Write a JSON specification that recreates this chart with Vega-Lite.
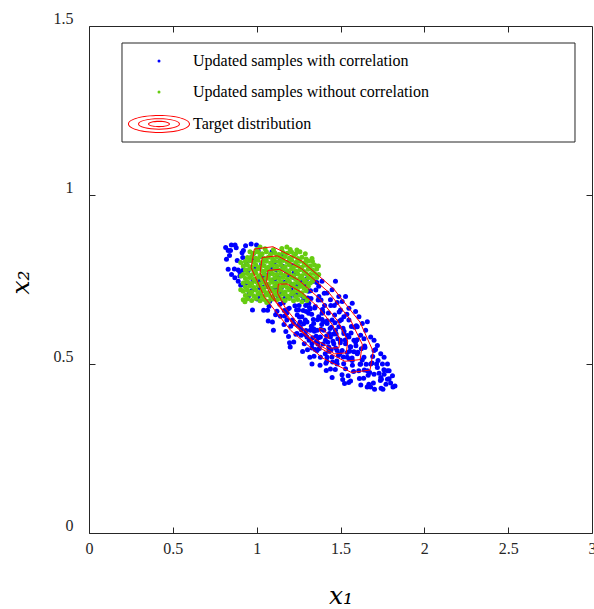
{
"$schema": "https://vega.github.io/schema/vega-lite/v6.json",
"width": 503, "height": 507,
"autosize": {"type": "none"},
"padding": {"left": 89, "top": 26, "right": 2, "bottom": 76},
"background": "white",
"config": {
 "font": "Liberation Serif",
 "view": {"stroke": "#262626", "strokeWidth": 1},
 "axis": {"grid": false, "domain": false, "tickSize": -6, "tickColor": "#262626", "tickWidth": 1,
  "labelFont": "Liberation Serif", "labelFontSize": 16, "labelColor": "#262626", "labelFlush": false, "labelOverlap": false,
  "titleFont": "DejaVu Serif", "titleFontSize": 25, "titleFontStyle": "italic", "titleFontWeight": "normal", "titleColor": "#000000"},
 "legend": {"orient": "none", "legendX": 33, "legendY": 17, "padding": 10, "rowPadding": 15,
  "strokeColor": "transparent", "fillColor": "transparent", "symbolSize": 9, "symbolOffset": 19, "labelOffset": 26, "symbolStrokeWidth": 0,
  "labelFont": "Liberation Serif", "labelFontSize": 16, "labelColor": "#000000", "labelLimit": 0}
},
"datasets": {
 "blue": [
{"x":0.830,"y":0.836},{"x":0.838,"y":0.821},{"x":0.849,"y":0.852},{"x":0.867,"y":0.781},{"x":0.844,"y":0.836},
{"x":0.884,"y":0.806},{"x":0.878,"y":0.844},{"x":0.890,"y":0.778},{"x":0.871,"y":0.852},
{"x":0.905,"y":0.733},{"x":0.913,"y":0.829},{"x":0.899,"y":0.773},{"x":0.917,"y":0.815},
{"x":0.919,"y":0.777},{"x":0.934,"y":0.850},{"x":0.928,"y":0.739},{"x":0.940,"y":0.795},{"x":0.921,"y":0.836},
{"x":0.955,"y":0.707},{"x":0.963,"y":0.807},{"x":0.949,"y":0.776},{"x":0.967,"y":0.855},{"x":0.944,"y":0.741},
{"x":0.984,"y":0.809},{"x":0.978,"y":0.746},{"x":0.990,"y":0.782},{"x":0.971,"y":0.717},{"x":0.980,"y":0.827},
{"x":1.013,"y":0.745},{"x":0.999,"y":0.852},{"x":1.017,"y":0.726},{"x":0.994,"y":0.781},{"x":1.009,"y":0.835},{"x":1.003,"y":0.692},
{"x":1.040,"y":0.759},{"x":1.021,"y":0.701},{"x":1.030,"y":0.796},{"x":1.038,"y":0.727},{"x":1.024,"y":0.819},{"x":1.042,"y":0.659},
{"x":1.044,"y":0.747},{"x":1.059,"y":0.708},{"x":1.053,"y":0.807},{"x":1.065,"y":0.659},{"x":1.046,"y":0.766},{"x":1.055,"y":0.729},
{"x":1.088,"y":0.782},{"x":1.074,"y":0.671},{"x":1.092,"y":0.832},{"x":1.069,"y":0.627},{"x":1.084,"y":0.769},{"x":1.078,"y":0.686},{"x":1.090,"y":0.748},
{"x":1.096,"y":0.698},{"x":1.105,"y":0.801},{"x":1.113,"y":0.646},{"x":1.099,"y":0.723},{"x":1.117,"y":0.780},{"x":1.094,"y":0.624},{"x":1.109,"y":0.752},
{"x":1.128,"y":0.702},{"x":1.140,"y":0.806},{"x":1.121,"y":0.656},{"x":1.130,"y":0.755},{"x":1.138,"y":0.677},{"x":1.124,"y":0.723},{"x":1.142,"y":0.641},{"x":1.119,"y":0.778},
{"x":1.159,"y":0.681},{"x":1.153,"y":0.818},{"x":1.165,"y":0.658},{"x":1.146,"y":0.724},{"x":1.155,"y":0.789},{"x":1.163,"y":0.617},{"x":1.149,"y":0.709},{"x":1.167,"y":0.642},
{"x":1.169,"y":0.742},{"x":1.184,"y":0.661},{"x":1.178,"y":0.769},{"x":1.190,"y":0.581},{"x":1.171,"y":0.696},{"x":1.180,"y":0.651},{"x":1.188,"y":0.764},{"x":1.174,"y":0.596},
{"x":1.217,"y":0.707},{"x":1.194,"y":0.665},{"x":1.209,"y":0.735},{"x":1.203,"y":0.612},{"x":1.215,"y":0.791},{"x":1.196,"y":0.563},{"x":1.205,"y":0.721},{"x":1.213,"y":0.630},{"x":1.199,"y":0.697},
{"x":1.242,"y":0.645},{"x":1.219,"y":0.757},{"x":1.234,"y":0.588},{"x":1.228,"y":0.672},{"x":1.240,"y":0.734},{"x":1.221,"y":0.565},{"x":1.230,"y":0.703},{"x":1.238,"y":0.660},{"x":1.224,"y":0.770},
{"x":1.267,"y":0.601},{"x":1.244,"y":0.708},{"x":1.259,"y":0.624},{"x":1.253,"y":0.673},{"x":1.265,"y":0.585},{"x":1.246,"y":0.731},{"x":1.255,"y":0.639},{"x":1.263,"y":0.783},{"x":1.249,"y":0.615},
{"x":1.292,"y":0.673},{"x":1.269,"y":0.742},{"x":1.284,"y":0.560},{"x":1.278,"y":0.658},{"x":1.290,"y":0.587},{"x":1.271,"y":0.703},{"x":1.280,"y":0.619},{"x":1.288,"y":0.730},{"x":1.274,"y":0.537},{"x":1.296,"y":0.655},
{"x":1.294,"y":0.599},{"x":1.309,"y":0.715},{"x":1.303,"y":0.542},{"x":1.315,"y":0.667},{"x":1.300,"y":0.624},{"x":1.305,"y":0.695},{"x":1.313,"y":0.570},{"x":1.299,"y":0.752},{"x":1.317,"y":0.520},{"x":1.311,"y":0.680},
{"x":1.334,"y":0.578},{"x":1.328,"y":0.647},{"x":1.340,"y":0.604},{"x":1.321,"y":0.717},{"x":1.330,"y":0.547},{"x":1.338,"y":0.632},{"x":1.324,"y":0.694},{"x":1.342,"y":0.523},{"x":1.319,"y":0.663},{"x":1.326,"y":0.612},
{"x":1.353,"y":0.719},{"x":1.365,"y":0.559},{"x":1.346,"y":0.666},{"x":1.355,"y":0.582},{"x":1.363,"y":0.631},{"x":1.349,"y":0.543},{"x":1.367,"y":0.689},{"x":1.344,"y":0.597},{"x":1.359,"y":0.741},{"x":1.357,"y":0.567},
{"x":1.390,"y":0.632},{"x":1.371,"y":0.700},{"x":1.380,"y":0.520},{"x":1.388,"y":0.617},{"x":1.374,"y":0.546},{"x":1.392,"y":0.661},{"x":1.369,"y":0.578},{"x":1.384,"y":0.689},{"x":1.378,"y":0.496},{"x":1.383,"y":0.603},
{"x":1.396,"y":0.559},{"x":1.405,"y":0.673},{"x":1.413,"y":0.502},{"x":1.399,"y":0.625},{"x":1.417,"y":0.583},{"x":1.394,"y":0.653},{"x":1.409,"y":0.530},{"x":1.403,"y":0.709},{"x":1.415,"y":0.481},
{"x":1.421,"y":0.628},{"x":1.430,"y":0.538},{"x":1.438,"y":0.605},{"x":1.424,"y":0.564},{"x":1.442,"y":0.673},{"x":1.419,"y":0.508},{"x":1.434,"y":0.590},{"x":1.428,"y":0.651},{"x":1.440,"y":0.485},
{"x":1.446,"y":0.609},{"x":1.455,"y":0.567},{"x":1.463,"y":0.673},{"x":1.449,"y":0.521},{"x":1.467,"y":0.622},{"x":1.444,"y":0.542},{"x":1.459,"y":0.589},{"x":1.453,"y":0.506},{"x":1.465,"y":0.645},
{"x":1.471,"y":0.547},{"x":1.480,"y":0.682},{"x":1.488,"y":0.525},{"x":1.474,"y":0.589},{"x":1.492,"y":0.654},{"x":1.469,"y":0.484},{"x":1.484,"y":0.575},{"x":1.478,"y":0.509},
{"x":1.515,"y":0.606},{"x":1.496,"y":0.530},{"x":1.505,"y":0.631},{"x":1.513,"y":0.454},{"x":1.499,"y":0.563},{"x":1.517,"y":0.521},{"x":1.494,"y":0.627},{"x":1.509,"y":0.468},
{"x":1.528,"y":0.571},{"x":1.540,"y":0.534},{"x":1.521,"y":0.597},{"x":1.530,"y":0.486},{"x":1.538,"y":0.647},{"x":1.524,"y":0.442},{"x":1.542,"y":0.584},{"x":1.519,"y":0.501},
{"x":1.559,"y":0.551},{"x":1.553,"y":0.515},{"x":1.565,"y":0.611},{"x":1.546,"y":0.465},{"x":1.555,"y":0.538},{"x":1.563,"y":0.592},{"x":1.549,"y":0.445},
{"x":1.592,"y":0.554},{"x":1.569,"y":0.518},{"x":1.584,"y":0.609},{"x":1.578,"y":0.478},{"x":1.590,"y":0.565},{"x":1.571,"y":0.496},{"x":1.580,"y":0.536},
{"x":1.613,"y":0.457},{"x":1.599,"y":0.572},{"x":1.617,"y":0.499},{"x":1.594,"y":0.613},{"x":1.609,"y":0.480},{"x":1.603,"y":0.535},
{"x":1.640,"y":0.575},{"x":1.621,"y":0.438},{"x":1.630,"y":0.512},{"x":1.638,"y":0.458},{"x":1.624,"y":0.545},{"x":1.642,"y":0.482},
{"x":1.644,"y":0.553},{"x":1.659,"y":0.432},{"x":1.653,"y":0.499},{"x":1.665,"y":0.467},{"x":1.646,"y":0.549},
{"x":1.680,"y":0.432},{"x":1.688,"y":0.503},{"x":1.674,"y":0.475},{"x":1.692,"y":0.522},{"x":1.669,"y":0.440},
{"x":1.709,"y":0.543},{"x":1.703,"y":0.425},{"x":1.715,"y":0.500},{"x":1.696,"y":0.444},
{"x":1.730,"y":0.473},{"x":1.738,"y":0.451},{"x":1.724,"y":0.510},{"x":1.742,"y":0.428},
{"x":1.744,"y":0.455},{"x":1.759,"y":0.483},{"x":1.753,"y":0.425},
{"x":1.790,"y":0.456},{"x":1.771,"y":0.440},{"x":1.780,"y":0.480},
{"x":1.813,"y":0.432},{"x":1.799,"y":0.444},{"x":1.825,"y":0.435},
{"x":1.34,"y":0.745},{"x":1.37,"y":0.73},{"x":1.39,"y":0.745},{"x":1.42,"y":0.71},{"x":1.45,"y":0.72},{"x":1.47,"y":0.745},{"x":1.49,"y":0.70},{"x":1.51,"y":0.685},
{"x":1.53,"y":0.70},{"x":1.55,"y":0.665},{"x":1.57,"y":0.68},{"x":1.59,"y":0.655},{"x":1.61,"y":0.64},{"x":1.63,"y":0.62},{"x":1.65,"y":0.60},{"x":1.66,"y":0.625},
{"x":1.68,"y":0.58},{"x":1.70,"y":0.57},{"x":1.72,"y":0.555},{"x":1.74,"y":0.53},{"x":1.76,"y":0.52},{"x":1.78,"y":0.50},{"x":1.79,"y":0.48},{"x":1.81,"y":0.465},
{"x":1.60,"y":0.61},{"x":1.55,"y":0.63},{"x":1.50,"y":0.66},{"x":1.44,"y":0.69},{"x":1.70,"y":0.54},{"x":1.75,"y":0.50},{"x":1.62,"y":0.585},{"x":1.52,"y":0.64},
{"x":1.10,"y":0.60},{"x":1.20,"y":0.55},{"x":1.33,"y":0.50},{"x":1.45,"y":0.46},{"x":1.56,"y":0.45},{"x":0.975,"y":0.66},{"x":0.95,"y":0.70},
{"x":0.815,"y":0.845},{"x":0.82,"y":0.81},{"x":0.83,"y":0.78},{"x":0.85,"y":0.765},{"x":0.87,"y":0.755},{"x":0.89,"y":0.745},{"x":0.90,"y":0.76},
{"x":1.25,"y":0.66},{"x":1.27,"y":0.64},{"x":1.29,"y":0.63},{"x":1.31,"y":0.65},{"x":1.32,"y":0.60},{"x":1.34,"y":0.62},{"x":1.36,"y":0.60},{"x":1.37,"y":0.64},
{"x":1.38,"y":0.58},{"x":1.40,"y":0.60},{"x":1.41,"y":0.57},{"x":1.42,"y":0.62},{"x":1.43,"y":0.55},{"x":1.44,"y":0.58},{"x":1.46,"y":0.56},{"x":1.47,"y":0.60},
{"x":1.48,"y":0.54},{"x":1.50,"y":0.57},{"x":1.51,"y":0.54},{"x":1.53,"y":0.56},{"x":1.54,"y":0.52},{"x":1.56,"y":0.55},{"x":1.57,"y":0.51},{"x":1.58,"y":0.57},
{"x":1.30,"y":0.58},{"x":1.33,"y":0.56},{"x":1.35,"y":0.67},{"x":1.28,"y":0.69},{"x":1.26,"y":0.61},{"x":1.39,"y":0.65},{"x":1.45,"y":0.63},{"x":1.49,"y":0.61},
{"x":1.52,"y":0.59},{"x":1.55,"y":0.58},{"x":1.36,"y":0.54},{"x":1.42,"y":0.52},{"x":1.48,"y":0.50},{"x":1.60,"y":0.53},{"x":1.62,"y":0.50},{"x":1.64,"y":0.52},
{"x":1.66,"y":0.48},{"x":1.68,"y":0.50},{"x":1.70,"y":0.47},{"x":1.72,"y":0.49},{"x":1.74,"y":0.46},{"x":1.76,"y":0.47},{"x":1.78,"y":0.455},{"x":1.22,"y":0.62},
{"x":1.24,"y":0.59},{"x":1.18,"y":0.63}
 ],
 "green": [
{"x":0.920,"y":0.690},{"x":0.945,"y":0.693},{"x":0.970,"y":0.688},{"x":0.995,"y":0.694},{"x":1.020,"y":0.687},{"x":1.045,"y":0.691},{"x":1.070,"y":0.686},{"x":1.095,"y":0.692},{"x":1.120,"y":0.690},{"x":1.145,"y":0.693},{"x":1.170,"y":0.688},{"x":1.195,"y":0.694},{"x":1.220,"y":0.687},{"x":1.245,"y":0.691},
{"x":0.933,"y":0.703},{"x":0.958,"y":0.706},{"x":0.983,"y":0.701},{"x":1.008,"y":0.707},{"x":1.033,"y":0.700},{"x":1.058,"y":0.704},{"x":1.083,"y":0.699},{"x":1.108,"y":0.705},{"x":1.133,"y":0.703},{"x":1.158,"y":0.706},{"x":1.183,"y":0.701},{"x":1.208,"y":0.707},{"x":1.233,"y":0.700},{"x":1.258,"y":0.704},{"x":1.283,"y":0.699},
{"x":0.920,"y":0.715},{"x":0.945,"y":0.718},{"x":0.970,"y":0.713},{"x":0.995,"y":0.719},{"x":1.020,"y":0.712},{"x":1.045,"y":0.716},{"x":1.070,"y":0.711},{"x":1.095,"y":0.717},{"x":1.120,"y":0.715},{"x":1.145,"y":0.718},{"x":1.170,"y":0.713},{"x":1.195,"y":0.719},{"x":1.220,"y":0.712},{"x":1.245,"y":0.716},{"x":1.270,"y":0.711},{"x":1.295,"y":0.717},
{"x":0.933,"y":0.728},{"x":0.958,"y":0.731},{"x":0.983,"y":0.726},{"x":1.008,"y":0.732},{"x":1.033,"y":0.725},{"x":1.058,"y":0.729},{"x":1.083,"y":0.724},{"x":1.108,"y":0.730},{"x":1.133,"y":0.728},{"x":1.158,"y":0.731},{"x":1.183,"y":0.726},{"x":1.208,"y":0.732},{"x":1.233,"y":0.725},{"x":1.258,"y":0.729},{"x":1.283,"y":0.724},{"x":1.308,"y":0.730},
{"x":0.920,"y":0.740},{"x":0.945,"y":0.743},{"x":0.970,"y":0.738},{"x":0.995,"y":0.744},{"x":1.020,"y":0.737},{"x":1.045,"y":0.741},{"x":1.070,"y":0.736},{"x":1.095,"y":0.742},{"x":1.120,"y":0.740},{"x":1.145,"y":0.743},{"x":1.170,"y":0.738},{"x":1.195,"y":0.744},{"x":1.220,"y":0.737},{"x":1.245,"y":0.741},{"x":1.270,"y":0.736},{"x":1.295,"y":0.742},{"x":1.320,"y":0.740},{"x":1.333,"y":0.745},
{"x":0.933,"y":0.753},{"x":0.958,"y":0.756},{"x":0.983,"y":0.751},{"x":1.008,"y":0.757},{"x":1.033,"y":0.750},{"x":1.058,"y":0.754},{"x":1.083,"y":0.749},{"x":1.108,"y":0.755},{"x":1.133,"y":0.753},{"x":1.158,"y":0.756},{"x":1.183,"y":0.751},{"x":1.208,"y":0.757},{"x":1.233,"y":0.750},{"x":1.258,"y":0.754},{"x":1.283,"y":0.749},{"x":1.308,"y":0.755},{"x":1.333,"y":0.753},{"x":1.358,"y":0.756},
{"x":0.920,"y":0.765},{"x":0.945,"y":0.768},{"x":0.970,"y":0.763},{"x":0.995,"y":0.769},{"x":1.020,"y":0.762},{"x":1.045,"y":0.766},{"x":1.070,"y":0.761},{"x":1.095,"y":0.767},{"x":1.120,"y":0.765},{"x":1.145,"y":0.768},{"x":1.170,"y":0.763},{"x":1.195,"y":0.769},{"x":1.220,"y":0.762},{"x":1.245,"y":0.766},{"x":1.270,"y":0.761},{"x":1.295,"y":0.767},{"x":1.320,"y":0.765},{"x":1.345,"y":0.768},
{"x":0.933,"y":0.778},{"x":0.958,"y":0.781},{"x":0.983,"y":0.776},{"x":1.008,"y":0.782},{"x":1.033,"y":0.775},{"x":1.058,"y":0.779},{"x":1.083,"y":0.774},{"x":1.108,"y":0.780},{"x":1.133,"y":0.778},{"x":1.158,"y":0.781},{"x":1.183,"y":0.776},{"x":1.208,"y":0.782},{"x":1.233,"y":0.775},{"x":1.258,"y":0.779},{"x":1.283,"y":0.774},{"x":1.308,"y":0.780},{"x":1.333,"y":0.778},{"x":1.358,"y":0.781},
{"x":0.920,"y":0.790},{"x":0.945,"y":0.793},{"x":0.970,"y":0.788},{"x":0.995,"y":0.794},{"x":1.020,"y":0.787},{"x":1.045,"y":0.791},{"x":1.070,"y":0.786},{"x":1.095,"y":0.792},{"x":1.120,"y":0.790},{"x":1.145,"y":0.793},{"x":1.170,"y":0.788},{"x":1.195,"y":0.794},{"x":1.220,"y":0.787},{"x":1.245,"y":0.791},{"x":1.270,"y":0.786},{"x":1.295,"y":0.792},{"x":1.320,"y":0.790},{"x":1.345,"y":0.793},
{"x":0.933,"y":0.803},{"x":0.958,"y":0.806},{"x":0.983,"y":0.801},{"x":1.008,"y":0.807},{"x":1.033,"y":0.800},{"x":1.058,"y":0.804},{"x":1.083,"y":0.799},{"x":1.108,"y":0.805},{"x":1.133,"y":0.803},{"x":1.158,"y":0.806},{"x":1.183,"y":0.801},{"x":1.208,"y":0.807},{"x":1.233,"y":0.800},{"x":1.258,"y":0.804},{"x":1.283,"y":0.799},{"x":1.308,"y":0.805},{"x":1.333,"y":0.803},
{"x":0.945,"y":0.815},{"x":0.970,"y":0.818},{"x":0.995,"y":0.813},{"x":1.020,"y":0.819},{"x":1.045,"y":0.812},{"x":1.070,"y":0.816},{"x":1.095,"y":0.811},{"x":1.120,"y":0.817},{"x":1.145,"y":0.815},{"x":1.170,"y":0.818},{"x":1.195,"y":0.813},{"x":1.220,"y":0.819},{"x":1.245,"y":0.812},{"x":1.270,"y":0.816},{"x":1.295,"y":0.811},
{"x":0.983,"y":0.828},{"x":1.008,"y":0.831},{"x":1.033,"y":0.826},{"x":1.058,"y":0.832},{"x":1.083,"y":0.825},{"x":1.108,"y":0.829},{"x":1.133,"y":0.824},{"x":1.158,"y":0.830},{"x":1.183,"y":0.828},{"x":1.208,"y":0.831},{"x":1.233,"y":0.826},{"x":1.258,"y":0.832},
{"x":1.000,"y":0.839},{"x":1.050,"y":0.841},{"x":1.100,"y":0.838},{"x":1.150,"y":0.842},{"x":1.200,"y":0.839},{"x":1.240,"y":0.837},
{"x":0.905,"y":0.720},{"x":0.908,"y":0.760},{"x":0.905,"y":0.800},{"x":1.370,"y":0.765},{"x":1.368,"y":0.790},{"x":1.300,"y":0.688},{"x":1.270,"y":0.684},{"x":0.930,"y":0.684},{"x":1.060,"y":0.682},{"x":1.330,"y":0.812},{"x":1.290,"y":0.826},{"x":0.960,"y":0.832},{"x":1.020,"y":0.846},{"x":1.180,"y":0.846}
 ],
 "contours": [
{"level":1,"i":0,"x":1.676,"y":0.482},{"level":1,"i":1,"x":1.695,"y":0.537},{"level":1,"i":2,"x":1.616,"y":0.624},{"level":1,"i":3,"x":1.460,"y":0.722},{"level":1,"i":4,"x":1.270,"y":0.804},{"level":1,"i":5,"x":1.097,"y":0.847},{"level":1,"i":6,"x":0.986,"y":0.840},{"level":1,"i":7,"x":0.967,"y":0.785},{"level":1,"i":8,"x":1.046,"y":0.698},{"level":1,"i":9,"x":1.202,"y":0.600},{"level":1,"i":10,"x":1.392,"y":0.518},{"level":1,"i":11,"x":1.565,"y":0.475},
{"level":2,"i":0,"x":1.617,"y":0.513},{"level":2,"i":1,"x":1.630,"y":0.558},{"level":2,"i":2,"x":1.560,"y":0.630},{"level":2,"i":3,"x":1.428,"y":0.713},{"level":2,"i":4,"x":1.268,"y":0.782},{"level":2,"i":5,"x":1.124,"y":0.820},{"level":2,"i":6,"x":1.033,"y":0.815},{"level":2,"i":7,"x":1.020,"y":0.770},{"level":2,"i":8,"x":1.090,"y":0.698},{"level":2,"i":9,"x":1.222,"y":0.615},{"level":2,"i":10,"x":1.382,"y":0.546},{"level":2,"i":11,"x":1.526,"y":0.508},
{"level":3,"i":0,"x":1.535,"y":0.533},{"level":3,"i":1,"x":1.543,"y":0.568},{"level":3,"i":2,"x":1.485,"y":0.626},{"level":3,"i":3,"x":1.378,"y":0.692},{"level":3,"i":4,"x":1.251,"y":0.748},{"level":3,"i":5,"x":1.137,"y":0.780},{"level":3,"i":6,"x":1.067,"y":0.777},{"level":3,"i":7,"x":1.059,"y":0.742},{"level":3,"i":8,"x":1.117,"y":0.684},{"level":3,"i":9,"x":1.224,"y":0.618},{"level":3,"i":10,"x":1.351,"y":0.562},{"level":3,"i":11,"x":1.465,"y":0.530},
{"level":4,"i":0,"x":1.491,"y":0.548},{"level":4,"i":1,"x":1.495,"y":0.575},{"level":4,"i":2,"x":1.449,"y":0.618},{"level":4,"i":3,"x":1.366,"y":0.669},{"level":4,"i":4,"x":1.267,"y":0.712},{"level":4,"i":5,"x":1.181,"y":0.737},{"level":4,"i":6,"x":1.129,"y":0.736},{"level":4,"i":7,"x":1.125,"y":0.709},{"level":4,"i":8,"x":1.171,"y":0.666},{"level":4,"i":9,"x":1.254,"y":0.615},{"level":4,"i":10,"x":1.353,"y":0.572},{"level":4,"i":11,"x":1.439,"y":0.547},
{"level":5,"i":0,"x":1.432,"y":0.576},{"level":5,"i":1,"x":1.426,"y":0.587},{"level":5,"i":2,"x":1.396,"y":0.603},{"level":5,"i":3,"x":1.372,"y":0.606},{"level":5,"i":4,"x":1.378,"y":0.595},{"level":5,"i":5,"x":1.408,"y":0.579}
 ]
},
"layer": [
 {
  "data": {"values": [{}]},
  "mark": {"type": "rect", "fill": "#ffffff", "stroke": "#262626", "strokeWidth": 1},
  "encoding": {
   "x": {"datum": 0.1968, "type": "quantitative", "axis": null},
   "x2": {"datum": 2.8986},
   "y": {"datum": 1.4497, "type": "quantitative", "axis": null},
   "y2": {"datum": 1.1568}
  }
 },
 {
  "data": {"name": "blue"},
  "mark": {"type": "point", "filled": true, "size": 25, "opacity": 1, "strokeWidth": 0},
  "encoding": {
   "x": {"field": "x", "type": "quantitative", "scale": {"domain": [0, 3], "nice": false, "zero": false},
    "axis": {"orient": "bottom", "values": [0, 0.5, 1, 1.5, 2, 2.5, 3], "format": "~g", "labelFont": "Liberation Serif", "labelFontSize": 16, "labelPadding": 13,
     "title": "x₁", "titleFont": "DejaVu Serif", "titleFontStyle": "italic", "titleFontSize": 25, "titleBaseline": "alphabetic", "titleY": 70}},
   "y": {"field": "y", "type": "quantitative", "scale": {"domain": [0, 1.5], "nice": false, "zero": false},
    "axis": {"orient": "left", "values": [0, 0.5, 1, 1.5], "format": "~g", "labelFont": "Liberation Serif", "labelFontSize": 16, "labelPadding": 22, "labelOffset": -8,
     "title": "x₂", "titleFont": "DejaVu Serif", "titleFontStyle": "italic", "titleFontSize": 25, "titleBaseline": "alphabetic", "titleX": -61, "titleY": 256, "titleAngle": -90}},
   "color": {"datum": "Updated samples with correlation", "title": null,
    "scale": {"domain": ["Updated samples with correlation", "Updated samples without correlation", "Target distribution"], "range": ["#0000ff", "#66cc11", "#ff0000"]}},
   "shape": {"datum": "Updated samples with correlation", "title": null,
    "scale": {"domain": ["Updated samples with correlation", "Updated samples without correlation", "Target distribution"],
     "range": ["circle", "circle", "M -20.7 0 A 20.7 6 0 1 0 20.7 0 A 20.7 6 0 1 0 -20.7 0 Z M -20 0 A 20 5.3 0 1 1 20 0 A 20 5.3 0 1 1 -20 0 Z M -14 0 A 14 3.8 0 1 0 14 0 A 14 3.8 0 1 0 -14 0 Z M -13.3 0 A 13.3 3.1 0 1 1 13.3 0 A 13.3 3.1 0 1 1 -13.3 0 Z M -7.3 0 A 7.3 2.1 0 1 0 7.3 0 A 7.3 2.1 0 1 0 -7.3 0 Z M -6.6 0 A 6.6 1.4 0 1 1 6.6 0 A 6.6 1.4 0 1 1 -6.6 0 Z"]}}
  }
 },
 {
  "data": {"name": "green"},
  "mark": {"type": "point", "filled": true, "size": 25, "opacity": 1, "strokeWidth": 0},
  "encoding": {
   "x": {"field": "x", "type": "quantitative", "axis": null},
   "y": {"field": "y", "type": "quantitative", "axis": null},
   "color": {"datum": "Updated samples without correlation", "title": null},
   "shape": {"datum": "Updated samples without correlation", "title": null}
  }
 },
 {
  "data": {"name": "contours"},
  "mark": {"type": "line", "interpolate": "linear-closed", "color": "#ff0000", "strokeWidth": 1},
  "encoding": {
   "x": {"field": "x", "type": "quantitative", "axis": {"orient": "top", "labels": false, "title": null, "values": [0.5, 1, 1.5, 2, 2.5]}},
   "y": {"field": "y", "type": "quantitative", "axis": {"orient": "right", "labels": false, "title": null, "values": [0.5, 1]}},
   "detail": {"field": "level", "type": "nominal"},
   "order": {"field": "i", "type": "quantitative"}
  }
 }
],
"resolve": {"axis": {"x": "independent", "y": "independent"}}
}
